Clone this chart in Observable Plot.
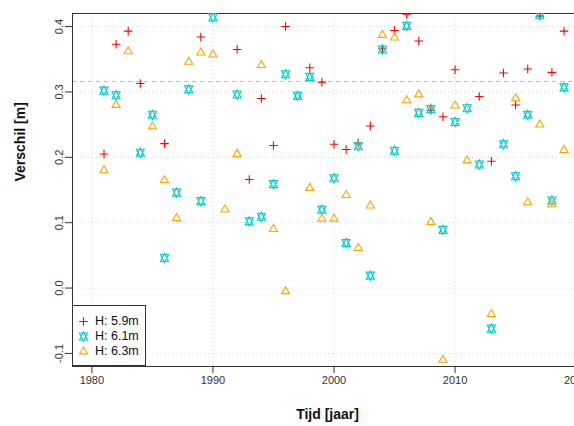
<!DOCTYPE html>
<html>
<head>
<meta charset="utf-8">
<script src="https://cdn.jsdelivr.net/npm/d3@7"></script>
<script src="https://cdn.jsdelivr.net/npm/@observablehq/plot@0.6"></script>
<style>
  html, body { margin: 0; padding: 0; background: #fff; overflow: hidden; }
  #wrap { position: relative; width: 574px; height: 426px; overflow: hidden; }
  #wrap > svg { max-width: none !important; height: 426px !important; display: block; }
  #legend {
    position: absolute; left: 72px; top: 305px; width: 74px; height: 61px;
    background: #fff; border: 1px solid #333; box-sizing: border-box;
    font: 12.5px "Liberation Sans", Arial, sans-serif; color: #111;
  }
  #legend .row { position: absolute; left: 0; height: 15px; line-height: 15px; white-space: nowrap; }
  #legend svg { position: absolute; left: 3px; top: 0; }
  #legend span { position: absolute; left: 22px; top: 0; }
</style>
</head>
<body>
<div id="wrap"></div>
<script>
// Yearly differences per water level
const years = [1981, 1982, 1983, 1984, 1985, 1986, 1987, 1988, 1989, 1990,
               1991, 1992, 1993, 1994, 1995, 1996, 1997, 1998, 1999, 2000,
               2001, 2002, 2003, 2004, 2005, 2006, 2007, 2008, 2009, 2010,
               2011, 2012, 2013, 2014, 2015, 2016, 2017, 2018, 2019];
const h59 = [0.205, 0.373, 0.393, 0.313, null, 0.221, null, null, 0.384, null,
             null, 0.365, 0.166, 0.290, 0.218, 0.400, null, 0.337, 0.315, 0.220,
             0.212, 0.222, 0.248, 0.366, 0.394, 0.419, 0.378, 0.272, 0.262, 0.334,
             null, 0.293, 0.194, 0.329, 0.280, 0.335, 0.416, 0.330, 0.393];
const h61 = [0.302, 0.295, null, 0.207, 0.265, 0.046, 0.146, 0.304, 0.133, 0.414,
             null, 0.296, 0.102, 0.109, 0.159, 0.327, 0.294, 0.323, 0.120, 0.168,
             0.069, 0.217, 0.019, 0.365, 0.210, 0.401, 0.268, 0.274, 0.089, 0.254,
             0.275, 0.189, -0.062, 0.220, 0.171, 0.265, 0.418, 0.134, 0.307];
const h63 = [0.180, 0.280, 0.362, null, 0.247, 0.165, 0.107, 0.346, 0.360, 0.357,
             0.120, 0.205, null, 0.341, 0.090, -0.005, null, 0.153, 0.106, 0.106,
             0.142, 0.061, 0.126, 0.387, 0.383, 0.287, 0.296, 0.101, -0.110, 0.279,
             0.195, null, -0.040, null, 0.290, 0.131, 0.250, 0.128, 0.211];
const referenceLevel = 0.316;

const seriesNames = ["H: 5.9m", "H: 6.1m", "H: 6.3m"];
const seriesColors = ["#FF0000", "#00CDCD", "#FFA500"];
const xTicks = [1980, 1990, 2000, 2010, 2020];
const yTicks = [-0.1, 0, 0.1, 0.2, 0.3, 0.4];

// Base-graphics style symbols: plus, triangle, and up/down triangle pair
const unit = (size) => Math.sqrt(size / Math.PI);
const plusSymbol = {
  draw(ctx, size) {
    const a = 1.414 * unit(size);
    ctx.moveTo(-a, 0); ctx.lineTo(a, 0);
    ctx.moveTo(0, -a); ctx.lineTo(0, a);
  }
};
const triangleSymbol = {
  draw(ctx, size) {
    const k = unit(size);
    ctx.moveTo(0, -1.555 * k);
    ctx.lineTo(1.347 * k, 0.778 * k);
    ctx.lineTo(-1.347 * k, 0.778 * k);
    ctx.closePath();
  }
};
const starSymbol = {
  draw(ctx, size) {
    const k = unit(size);
    const r = 1.555 * k, yc = 1.1665 * k, xc = 1.347 * k;
    ctx.moveTo(0, -r); ctx.lineTo(xc, yc); ctx.lineTo(-xc, yc); ctx.closePath();
    ctx.moveTo(0, r); ctx.lineTo(xc, -yc); ctx.lineTo(-xc, -yc); ctx.closePath();
  }
};
const symbols = [plusSymbol, starSymbol, triangleSymbol];
const seriesValues = [h59, h61, h63];
const symbolR = 3;

const seriesMarks = seriesValues.map((vals, s) =>
  Plot.dot(years.map((year, i) => ({year, value: vals[i]})), {
    x: "year", y: "value", symbol: symbols[s], r: symbolR,
    stroke: seriesColors[s], fill: "none", strokeWidth: 1.1, clip: true
  })
);

const chart = Plot.plot({
  width: 595, height: 426,
  marginLeft: 72, marginRight: 0, marginTop: 13, marginBottom: 60,
  style: {fontFamily: "'Liberation Sans', Arial, sans-serif", fontSize: "11px", color: "#333", background: "#fff", overflow: "visible"},
  x: {domain: [1978.4, 2021.6]},
  y: {domain: [-0.12, 0.42]},
  marks: [
    Plot.gridX(xTicks, {stroke: "#D3D3D3", strokeOpacity: 1, strokeDasharray: "1,3"}),
    Plot.gridY(yTicks, {stroke: "#D3D3D3", strokeOpacity: 1, strokeDasharray: "1,3"}),
    Plot.ruleY([referenceLevel], {stroke: "#BEBEBE", strokeDasharray: "4,4"}),
    Plot.axisX(xTicks, {tickSize: 7, tickFormat: d => String(d), label: null, stroke: "#333"}),
    Plot.axisY(yTicks, {tickSize: 7, tickRotate: -90, tickFormat: d => d.toFixed(1), label: null, stroke: "#333"}),
    Plot.frame({stroke: "#333"}),
    ...seriesMarks,
    Plot.text(["Tijd [jaar]"], {frameAnchor: "bottom", dx: -6.5, dy: 52, fontWeight: "bold", fontSize: 14, fill: "#111"}),
    Plot.text(["Verschil [m]"], {frameAnchor: "left", rotate: -90, dx: -52, dy: -8.5, fontWeight: "bold", fontSize: 14, fill: "#111"})
  ]
});

const wrap = document.getElementById("wrap");
wrap.appendChild(chart);

// Legend box in the lower-left corner of the plot area
const legend = document.createElement("div");
legend.id = "legend";
seriesNames.forEach((name, s) => {
  const row = document.createElement("div");
  row.className = "row";
  row.style.top = (8 + s * 15) + "px";
  const p = d3.path();
  symbols[s].draw(p, symbolR * symbolR * Math.PI);
  const svg = d3.create("svg").attr("width", 16).attr("height", 15);
  svg.append("path").attr("d", p.toString()).attr("transform", "translate(7.5,7.5)")
    .attr("fill", "none").attr("stroke", seriesColors[s]).attr("stroke-width", 1.1);
  row.appendChild(svg.node());
  const label = document.createElement("span");
  label.textContent = name;
  row.appendChild(label);
  legend.appendChild(row);
});
wrap.appendChild(legend);
</script>
</body>
</html>
